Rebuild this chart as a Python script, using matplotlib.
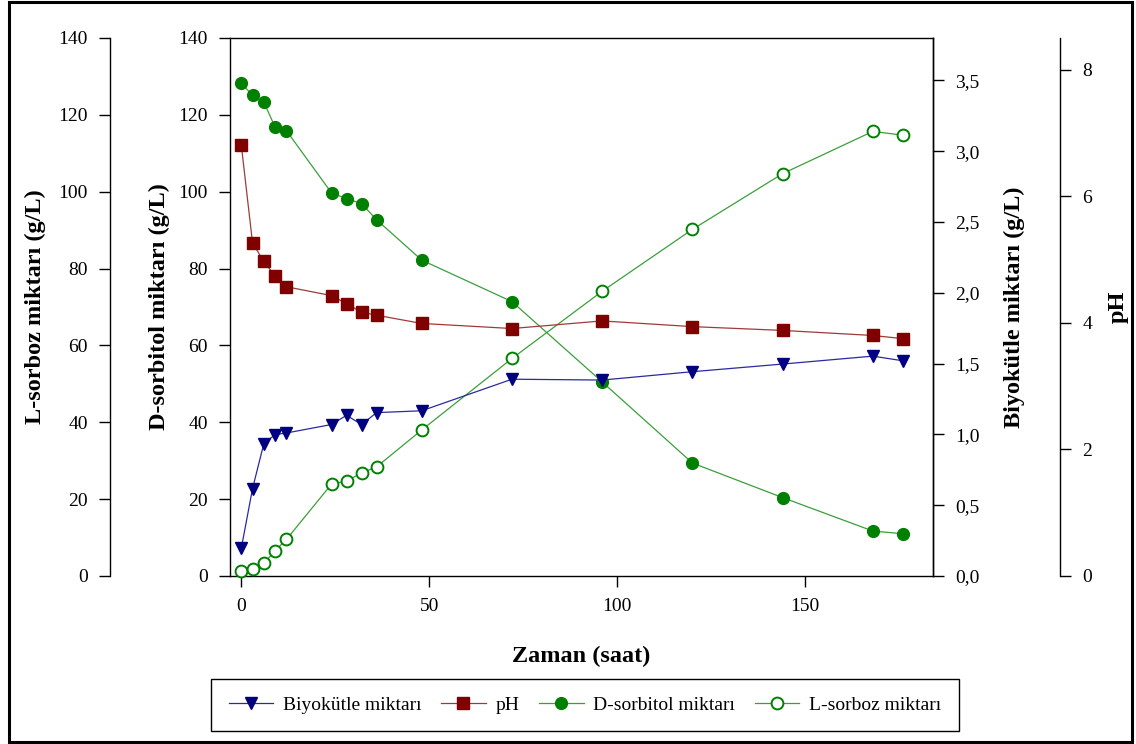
import matplotlib
matplotlib.use("Agg")
import matplotlib.pyplot as plt
from matplotlib.patches import Rectangle
from matplotlib.lines import Line2D
import matplotlib.ticker as ticker

# ── Data ───────────────────────────────────────────────────────────────────────
time_h = [0, 3, 6, 9, 12, 24, 28, 32, 36, 48, 72, 96, 120, 144, 168, 176]
sorbitol = [128.2, 125.1, 123.3, 116.8, 115.9, 99.7, 98.2, 96.9, 92.7,
            82.2, 71.4, 50.5, 29.4, 20.4, 11.7, 11.0]
sorboz = [1.4, 1.7, 3.3, 6.6, 9.5, 23.9, 24.7, 26.8, 28.4,
          38.0, 56.6, 74.1, 90.2, 104.7, 115.7, 114.7]
biomass = [0.195, 0.618, 0.935, 0.999, 1.01, 1.07, 1.135, 1.07, 1.154,
           1.167, 1.39, 1.384, 1.443, 1.497, 1.553, 1.52]
ph = [6.81, 5.26, 4.97, 4.74, 4.57, 4.43, 4.30, 4.17, 4.12,
      3.99, 3.91, 4.03, 3.94, 3.88, 3.80, 3.75]

x_ticks = [0, 50, 100, 150]
g_ticks = [0, 20, 40, 60, 80, 100, 120, 140]
bio_ticks = [0.0, 0.5, 1.0, 1.5, 2.0, 2.5, 3.0, 3.5]
ph_ticks = [0, 2, 4, 6, 8]

# ── Style ──────────────────────────────────────────────────────────────────────
plt.rcParams["font.family"] = ["Liberation Serif", "DejaVu Serif"]
TICK_FS = 14
LABEL_FS = 17.5
LW = 0.9
MS = 8.5

BLUE_M, BLUE_L = "#000080", "#2a2aa0"
RED_M, RED_L = "#800000", "#a03a3a"
GRN_M, GRN_L = "#008000", "#3a9f3a"

fig = plt.figure(figsize=(11.36, 7.44), dpi=100)
ax = fig.add_axes([230 / 1136, 1 - 576 / 744, 703 / 1136, 538 / 744])

ax_l = ax.twinx()    # L-sorboz, outer left
ax_bio = ax.twinx()  # biomass, on the right spine
ax_ph = ax.twinx()   # pH, outer right


def tick_style(a, side):
    a.tick_params(axis="y", direction="out", length=8, width=1, pad=8,
                  labelsize=TICK_FS, left=(side == "left"), right=(side == "right"),
                  labelleft=(side == "left"), labelright=(side == "right"))


# main axes: D-sorbitol
ax.set_xlim(-3, 184)
ax.set_ylim(0, 140)
ax.set_xticks(x_ticks)
ax.set_yticks(g_ticks)
ax.tick_params(axis="x", direction="out", length=8, width=1, pad=8,
               labelsize=TICK_FS, top=False)
tick_style(ax, "left")
for s in ax.spines.values():
    s.set_linewidth(1)
ax.set_xlabel("Zaman (saat)", fontsize=LABEL_FS, fontweight="bold", labelpad=22)
ax.set_ylabel("D-sorbitol miktarı (g/L)", fontsize=LABEL_FS, fontweight="bold",
              labelpad=6)

# outer left axis: L-sorboz
ax_l.set_ylim(0, 140)
ax_l.set_yticks(g_ticks)
ax_l.spines["left"].set_position(("axes", -120 / 703))
ax_l.spines["left"].set_visible(True)
ax_l.spines["left"].set_linewidth(1)
for k in ("right", "top", "bottom"):
    ax_l.spines[k].set_visible(False)
ax_l.yaxis.set_label_position("left")
ax_l.yaxis.set_ticks_position("left")
tick_style(ax_l, "left")
ax_l.set_ylabel("L-sorboz miktarı (g/L)", fontsize=LABEL_FS, fontweight="bold",
                labelpad=9)

# right axis: biomass
ax_bio.set_ylim(0, 3.8)
ax_bio.set_yticks(bio_ticks)
ax_bio.yaxis.set_major_formatter(
    ticker.FuncFormatter(lambda v, p: f"{v:.1f}".replace(".", ",")))
for k in ("left", "top", "bottom"):
    ax_bio.spines[k].set_visible(False)
ax_bio.spines["right"].set_linewidth(1)
tick_style(ax_bio, "right")
ax_bio.set_ylabel("Biyokütle miktarı (g/L)", fontsize=LABEL_FS, fontweight="bold",
                  labelpad=17)

# outer right axis: pH
ax_ph.set_ylim(0, 8.5)
ax_ph.set_yticks(ph_ticks)
ax_ph.spines["right"].set_position(("axes", 1 + 127 / 703))
ax_ph.spines["right"].set_linewidth(1)
for k in ("left", "top", "bottom"):
    ax_ph.spines[k].set_visible(False)
tick_style(ax_ph, "right")
ax_ph.set_ylabel("pH", fontsize=LABEL_FS, fontweight="bold", rotation=90,
                 labelpad=11)

# ── Series ─────────────────────────────────────────────────────────────────────
ax_bio.plot(time_h, biomass, color=BLUE_L, lw=LW, marker="v", ms=MS,
            mfc=BLUE_M, mec=BLUE_M, clip_on=False)
ax_ph.plot(time_h, ph, color=RED_L, lw=LW, marker="s", ms=MS,
           mfc=RED_M, mec=RED_M, clip_on=False)
ax.plot(time_h, sorbitol, color=GRN_L, lw=LW, marker="o", ms=MS,
        mfc=GRN_M, mec=GRN_M, clip_on=False)
ax_l.plot(time_h, sorboz, color=GRN_L, lw=LW, marker="o", ms=MS,
          mfc="white", mec=GRN_M, mew=1.4, clip_on=False)

# ── Legend ─────────────────────────────────────────────────────────────────────
handles = [
    Line2D([], [], color=BLUE_L, lw=LW, marker="v", ms=MS, mfc=BLUE_M, mec=BLUE_M),
    Line2D([], [], color=RED_L, lw=LW, marker="s", ms=MS, mfc=RED_M, mec=RED_M),
    Line2D([], [], color=GRN_L, lw=LW, marker="o", ms=MS, mfc=GRN_M, mec=GRN_M),
    Line2D([], [], color=GRN_L, lw=LW, marker="o", ms=MS, mfc="white", mec=GRN_M,
           mew=1.4),
]
labels = ["Biyokütle miktarı", "pH", "D-sorbitol miktarı", "L-sorboz miktarı"]
leg = fig.legend(handles, labels, loc="center", ncol=4,
                 bbox_to_anchor=(585 / 1136, 1 - 705 / 744),
                 fontsize=14, frameon=True, fancybox=False, edgecolor="black",
                 framealpha=1, handlelength=2.3, handletextpad=0.5,
                 columnspacing=1.0, borderpad=0.9)
leg.get_frame().set_linewidth(1)

# outer frame around the whole figure
fig.patches.append(Rectangle((9 / 1136, 2 / 744), 1123 / 1136, 740 / 744,
                             transform=fig.transFigure, fill=False,
                             edgecolor="black", linewidth=2.2))

fig.savefig("out.png", dpi=100)
